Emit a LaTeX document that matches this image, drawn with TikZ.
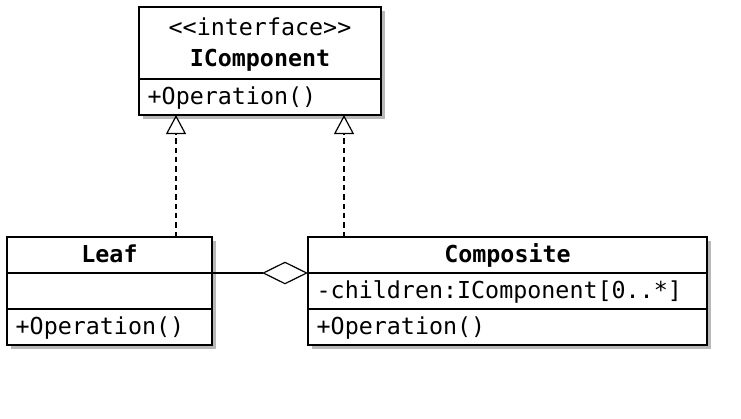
\documentclass[tikz,border=0pt]{standalone}
\usepackage{fontspec}
\setmonofont{DejaVu Sans Mono}
\usetikzlibrary{arrows.meta,shadows}

\begin{document}
\begin{tikzpicture}[x=0.75pt,y=-0.75pt,
  font=\ttfamily\fontsize{17.5}{23}\selectfont,
  box/.style={draw,line width=0.9pt,fill=white,inner sep=0pt,outer sep=0pt,
    drop shadow={shadow xshift=2.8pt,shadow yshift=-2.8pt,fill=black!28,opacity=1}},
  single/.style={box,minimum height=27pt,text height=14pt,text depth=3pt},
  part/.style={single,anchor=north,inner xsep=6.5pt,align=left},
  realize/.style={line width=0.9pt,dash pattern=on 4pt off 3pt,
    -{Triangle[open,length=14.25pt,width=15pt]}},
  aggregate/.style={line width=0.9pt,{Diamond[open,length=34.5pt,width=17pt]}-}]

\useasboundingbox (0,0) rectangle (741,418);

% interface
\node[box,minimum width=181.5pt,minimum height=54pt,align=center,anchor=north west]
  (ihead) at (139,7) {\rule{0pt}{16pt}<<interface>>\\\bfseries IComponent};
\node[part,text width=168.5pt] (iops) at (ihead.south) {+Operation()};

% leaf
\node[single,minimum width=153.75pt,anchor=north west] (leafhead) at (7,237) {\bfseries Leaf};
\node[part,text width=140.75pt] (leafattr) at (leafhead.south) {};
\node[part,text width=140.75pt] (leafops) at (leafattr.south) {+Operation()};

% composite
\node[single,minimum width=299.25pt,anchor=north west] (comphead) at (308,237) {\bfseries Composite};
\node[part,text width=286.25pt] (compattr) at (comphead.south) {-children:IComponent[0..*]};
\node[part,text width=286.25pt] (compops) at (compattr.south) {+Operation()};

\coordinate (leafup) at (176,0);
\coordinate (compup) at (344,0);
\draw[realize] (leafhead.north -| leafup) -- (iops.south -| leafup);
\draw[realize] (comphead.north -| compup) -- (iops.south -| compup);
\draw[aggregate] (comphead.south west) -- (leafhead.south east);

\end{tikzpicture}
\end{document}
